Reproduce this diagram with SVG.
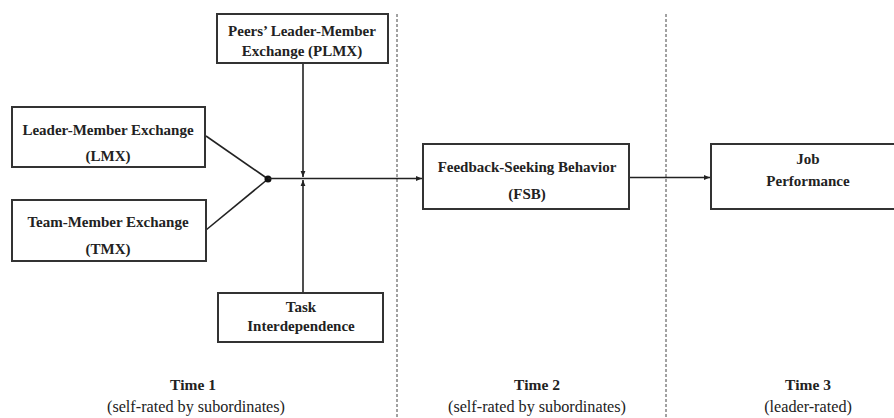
<svg xmlns="http://www.w3.org/2000/svg" width="894" height="418" viewBox="0 0 894 418">
<style>
.box{fill:#fff;stroke:#333;stroke-width:2}
.t{font-family:'Liberation Serif','Times New Roman','DejaVu Serif',serif;font-weight:bold;font-size:15px;fill:#222;text-anchor:middle}
.s{font-family:'Liberation Serif','Times New Roman','DejaVu Serif',serif;font-size:16.2px;fill:#222;text-anchor:middle}
.ln{stroke:#222;stroke-width:1.6;fill:none}
.dash{stroke:#444;stroke-width:1;stroke-dasharray:3,2;fill:none}
</style>
<defs>
<marker id="ah" viewBox="0 0 10 10" refX="10" refY="5" markerWidth="6" markerHeight="6" orient="auto" markerUnits="userSpaceOnUse">
<path d="M0,1 L10,5 L0,9 Z" fill="#222"/>
</marker>
</defs>
<g id="dividers">
<line class="dash" x1="397" y1="14" x2="397" y2="418"/>
<line class="dash" x1="666" y1="14" x2="666" y2="418"/>
</g>
<g id="connectors">
<line class="ln" x1="206" y1="136" x2="268" y2="179"/>
<line class="ln" x1="206" y1="230" x2="268" y2="179"/>
<circle cx="268" cy="179" r="3.5" fill="#111"/>
<line class="ln" x1="268" y1="178.5" x2="422" y2="178.5" marker-end="url(#ah)"/>
<line class="ln" x1="303" y1="63" x2="303" y2="177" marker-end="url(#ah)"/>
<line class="ln" x1="303" y1="293" x2="303" y2="180" marker-end="url(#ah)"/>
<line class="ln" x1="629" y1="177.5" x2="710" y2="177.5" marker-end="url(#ah)"/>
</g>
<g id="plmx">
<rect class="box" x="217" y="14" width="171" height="49"/>
<text class="t" x="302" y="36">Peers’ Leader-Member</text>
<text class="t" x="302" y="56">Exchange (PLMX)</text>
</g>
<g id="lmx">
<rect class="box" x="12" y="107" width="193" height="60"/>
<text class="t" x="108" y="135">Leader-Member Exchange</text>
<text class="t" x="108" y="161">(LMX)</text>
</g>
<g id="tmx">
<rect class="box" x="12" y="200" width="194" height="61"/>
<text class="t" x="108" y="227">Team-Member Exchange</text>
<text class="t" x="108" y="254">(TMX)</text>
</g>
<g id="task">
<rect class="box" x="218" y="293" width="165" height="49"/>
<text class="t" x="301" y="312">Task</text>
<text class="t" x="301" y="331">Interdependence</text>
</g>
<g id="fsb">
<rect class="box" x="423" y="144" width="206" height="65"/>
<text class="t" x="527" y="172">Feedback-Seeking Behavior</text>
<text class="t" x="527" y="199">(FSB)</text>
</g>
<g id="job">
<rect class="box" x="711" y="144" width="194" height="65"/>
<text class="t" x="808" y="164">Job</text>
<text class="t" x="808" y="186">Performance</text>
</g>
<g id="labels">
<text class="t" x="193" y="390" style="font-size:15.5px">Time 1</text>
<text class="s" x="196" y="412">(self-rated by subordinates)</text>
<text class="t" x="537" y="390" style="font-size:15.5px">Time 2</text>
<text class="s" x="537" y="412">(self-rated by subordinates)</text>
<text class="t" x="808" y="390" style="font-size:15.5px">Time 3</text>
<text class="s" x="808" y="412">(leader-rated)</text>
</g>
</svg>
